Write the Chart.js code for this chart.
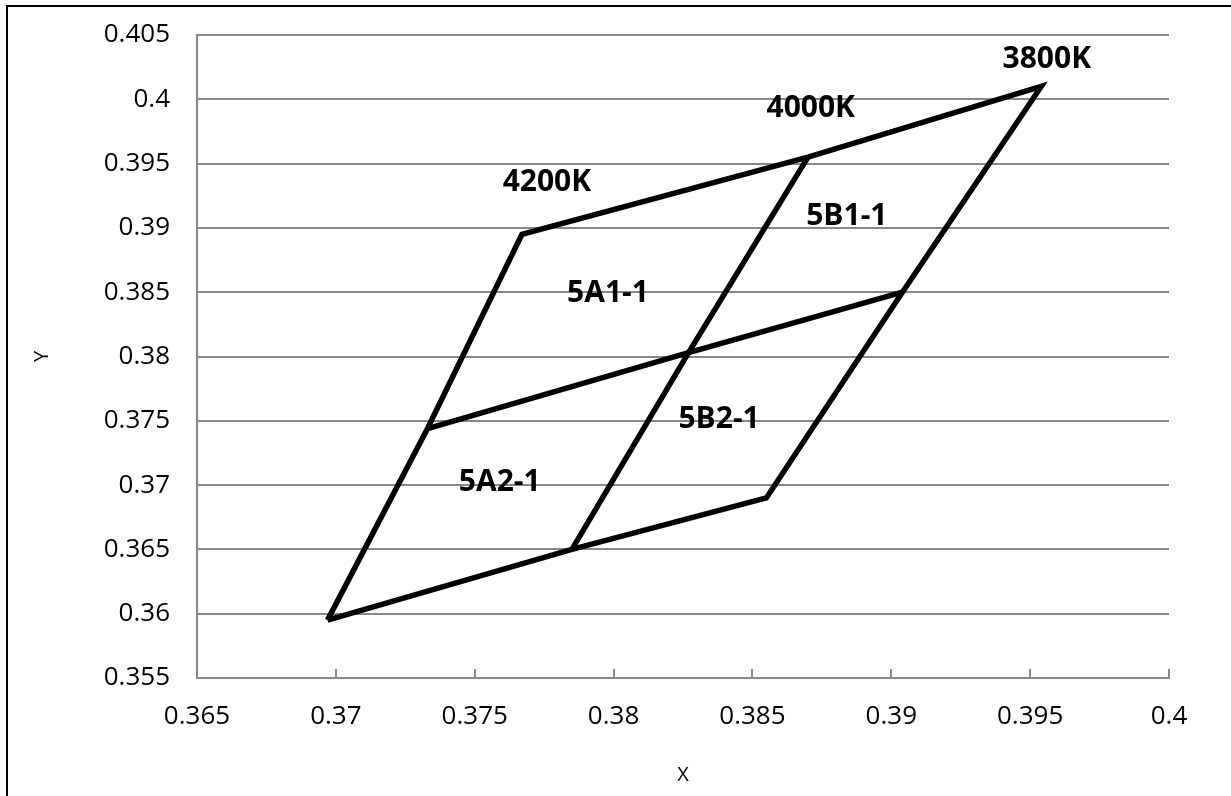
<!DOCTYPE html>
<html>
<head>
<meta charset="utf-8">
<script src="https://cdn.jsdelivr.net/npm/chart.js@4.4.1/dist/chart.umd.min.js"></script>
<style>
    html, body { margin: 0; padding: 0; background: #fff; }
    #wrap { position: relative; width: 1231px; height: 796px; overflow: hidden; }
    #frame {
        position: absolute; left: 6px; top: 5px; width: 1400px; height: 1000px;
        border-left: 2px solid #000; border-top: 2px solid #000; pointer-events: none;
    }
</style>
</head>
<body>
<div id="wrap">
    <canvas id="chart" width="1231" height="796"></canvas>
    <div id="frame"></div>
</div>
<script>
// Tick labels
const xTickLabels = ['0.365', '0.37', '0.375', '0.38', '0.385', '0.39', '0.395', '0.4'];
const yTickLabels = ['0.355', '0.36', '0.365', '0.37', '0.375', '0.38', '0.385', '0.39', '0.395', '0.4', '0.405'];

// Outer boundary: bottom-left -> 4200K -> 3800K -> bottom-right -> back
const outlineX = [0.3697, 0.3733, 0.3767, 0.3870, 0.3954, 0.3904, 0.3855, 0.3785, 0.3697];
const outlineY = [0.3595, 0.3744, 0.3895, 0.3955, 0.4010, 0.3850, 0.3690, 0.3650, 0.3595];

// Middle line (left to right) and the 4000K line (bottom to top)
const midX = [0.3733, 0.3827, 0.3904];
const midY = [0.3744, 0.3803, 0.3850];
const crossX = [0.3785, 0.3827, 0.3870];
const crossY = [0.3650, 0.3803, 0.3955];

// Text labels in the plot
const labelNames = ['4200K', '4000K', '3800K', '5A1-1', '5B1-1', '5B2-1', '5A2-1'];
const labelX = [0.3776, 0.3871, 0.3956, 0.3798, 0.3884, 0.3838, 0.3759];
const labelY = [0.3935, 0.3993, 0.4031, 0.3849, 0.3909, 0.3751, 0.3702];

function toPoints(xs, ys) {
    return xs.map((x, i) => ({ x: x, y: ys[i] }));
}

const lineStyle = {
    borderColor: '#000',
    borderWidth: 5.5,
    pointRadius: 0,
    showLine: true,
    fill: false,
    tension: 0
};

// small tick marks pointing up from the x axis
const insideTicks = {
    id: 'insideTicks',
    beforeDatasetsDraw(chart) {
        const ctx = chart.ctx;
        const xs = chart.scales.x;
        const bottom = chart.chartArea.bottom;
        ctx.save();
        ctx.strokeStyle = '#888';
        ctx.lineWidth = 2;
        xs.ticks.forEach(t => {
            const px = Math.round(xs.getPixelForValue(t.value));
            ctx.beginPath();
            ctx.moveTo(px, bottom);
            ctx.lineTo(px, bottom - 9);
            ctx.stroke();
        });
        ctx.restore();
    }
};

const plotLabels = {
    id: 'plotLabels',
    afterDatasetsDraw(chart) {
        const ctx = chart.ctx;
        const xs = chart.scales.x, ys = chart.scales.y;
        ctx.save();
        ctx.fillStyle = '#000';
        ctx.font = 'bold 30px "Open Sans"';
        ctx.textAlign = 'center';
        ctx.textBaseline = 'middle';
        labelNames.forEach((name, i) => {
            ctx.fillText(name, xs.getPixelForValue(labelX[i]), ys.getPixelForValue(labelY[i]));
        });
        ctx.restore();
    }
};

const ctx = document.getElementById('chart').getContext('2d');
new Chart(ctx, {
    type: 'scatter',
    data: {
        datasets: [
            Object.assign({ label: 'outline', data: toPoints(outlineX, outlineY) }, lineStyle),
            Object.assign({ label: 'middle', data: toPoints(midX, midY) }, lineStyle),
            Object.assign({ label: 'cross', data: toPoints(crossX, crossY) }, lineStyle)
        ]
    },
    options: {
        responsive: false,
        animation: false,
        events: [],
        layout: { padding: { top: 35, right: 62, left: 0, bottom: 0 } },
        plugins: {
            legend: { display: false },
            tooltip: { enabled: false }
        },
        scales: {
            x: {
                type: 'linear',
                min: 0.365,
                max: 0.4,
                ticks: {
                    stepSize: 0.005,
                    padding: 15,
                    color: '#000',
                    font: { family: '"Open Sans"', size: 26 },
                    callback: (v, i) => xTickLabels[i]
                },
                grid: { display: false },
                border: { display: true, color: '#888', width: 2 },
                title: {
                    display: true,
                    text: 'X',
                    color: '#000',
                    font: { family: '"Open Sans"', size: 20 },
                    padding: { top: 0, bottom: 9 }
                },
                afterFit: s => { s.height = 118; }
            },
            y: {
                type: 'linear',
                min: 0.355,
                max: 0.405,
                ticks: {
                    stepSize: 0.005,
                    padding: 27,
                    color: '#000',
                    font: { family: '"Open Sans"', size: 26 },
                    callback: (v, i) => yTickLabels[i]
                },
                grid: { color: '#888', lineWidth: 2, drawTicks: false },
                border: { display: true, color: '#888', width: 2 },
                title: {
                    display: true,
                    text: 'Y',
                    color: '#000',
                    font: { family: '"Open Sans"', size: 20 },
                    padding: { top: 30, bottom: 0 }
                },
                afterFit: s => {
                    s.width = 197;
                    s.paddingTop = 0;
                    s.paddingBottom = 0;
                }
            }
        }
    },
    plugins: [insideTicks, plotLabels]
});
</script>
</body>
</html>
